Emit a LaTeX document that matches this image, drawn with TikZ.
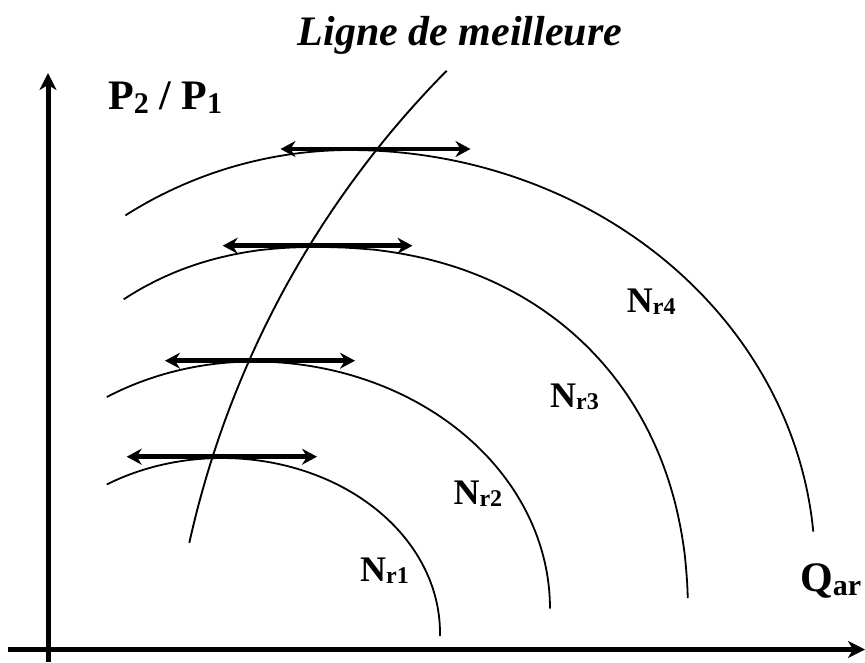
\documentclass[tikz,border=0pt]{standalone}
\usepackage{fontspec}
\setmainfont{Liberation Serif}
\usetikzlibrary{arrows.meta}
\newcommand{\xLg}{\fontsize{42}{46}\selectfont}
\newcommand{\xMd}{\fontsize{36}{40}\selectfont}
\newcommand{\xSb}[1]{\raisebox{-4pt}{\fontsize{30}{32}\selectfont #1}}
\newcommand{\xSs}[1]{\raisebox{-2pt}{\fontsize{24}{26}\selectfont #1}}
\begin{document}
\begin{tikzpicture}[x=1pt,y=-1pt,
  axisline/.style={line width=5pt,-{Stealth[length=17pt,width=17pt,inset=5pt]}},
  speedline/.style={line width=1.8pt},
  bestline/.style={line width=1.9pt},
  spanarrow/.style={line width=4.5pt,{Stealth[length=15pt,width=16pt,inset=5pt]}-{Stealth[length=15pt,width=16pt,inset=5pt]}},
  lbl/.style={anchor=base west,inner sep=0pt,font=\bfseries}]
\useasboundingbox (0,0) rectangle (865,662);

% axes
\coordinate (ybot) at (48,662);
\coordinate (ytip) at (48,73);
\coordinate (xleft) at (8,649.5);
\coordinate (xtip) at (865,649.5);
\draw[axisline] (ybot) -- (ytip);
\draw[axisline] (xleft) -- (xtip);

% speed lines
\draw[speedline] plot[domain=121.9:-1,samples=90] ({222+218*cos(\x)},{633-175*sin(\x)});
\draw[speedline] plot[domain=121.1:90,samples=30] ({254+285*cos(\x)},{608.5-247*sin(\x)})
  -- plot[domain=90:0,samples=70] ({254+296*cos(\x)},{608.5-247*sin(\x)});
\draw[speedline] plot[domain=57.7:89.5,samples=40] ({316-340*pow(cos(\x),0.909)},{617-370*pow(sin(\x),0.909)})
  -- (316,247)
  -- plot[domain=89.5:2.14,samples=90] ({316+372*pow(cos(\x),0.909)},{617-370*pow(sin(\x),0.909)});
\draw[speedline] plot[domain=122.5:90,samples=30] ({350+418*cos(\x)},{567.3-417.3*sin(\x)})
  -- plot[domain=90:4.9,samples=80] ({350+465*cos(\x)},{567.3-417.3*sin(\x)});

% best efficiency line
\draw[bestline] plot[domain=167.5:135.3,samples=70] ({1135.8+969.5*cos(\x)},{752.6-969.5*sin(\x)});

% double arrows
\coordinate (a1l) at (126.7,456.7); \coordinate (a1r) at (317,456.7);
\coordinate (a2l) at (165,360.7);   \coordinate (a2r) at (355,360.7);
\coordinate (a3l) at (222.7,245.7); \coordinate (a3r) at (412.5,245.7);
\coordinate (a4l) at (280.5,149);   \coordinate (a4r) at (470.5,149);
\draw[spanarrow] (a1l) -- (a1r);
\draw[spanarrow] (a2l) -- (a2r);
\draw[spanarrow] (a3l) -- (a3r);
\draw[spanarrow] (a4l) -- (a4r);

% labels
\node[lbl,anchor=base,font=\bfseries\itshape] (title) at (460,45) {\xLg Ligne de meilleure};
\node[lbl] (ratio) at (108,109) {\xLg P\xSb{2} / P\xSb{1}};
\node[lbl] (n4) at (626.7,312.5) {\xMd N\xSs{r4}};
\node[lbl] (n3) at (550,407.5) {\xMd N\xSs{r3}};
\node[lbl] (n2) at (453.3,504) {\xMd N\xSs{r2}};
\node[lbl] (n1) at (360,581) {\xMd N\xSs{r1}};
\node[lbl] (q) at (800,591) {\xLg Q\xSb{ar}};
\end{tikzpicture}
\end{document}
